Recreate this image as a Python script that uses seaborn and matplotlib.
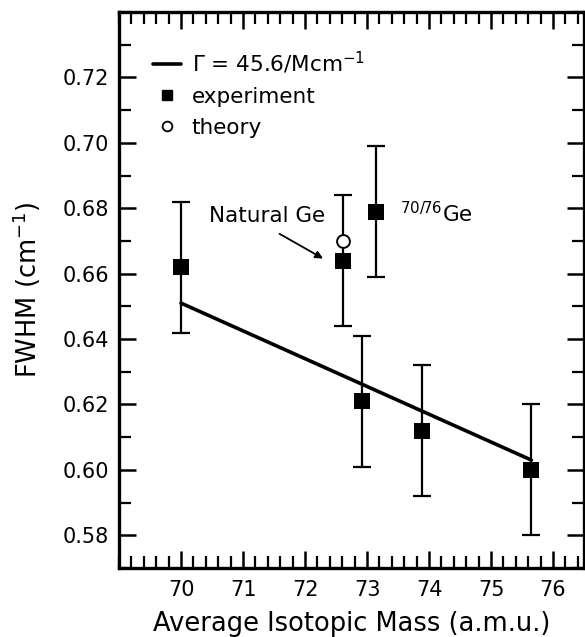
import numpy as np
import pandas as pd
import matplotlib
matplotlib.use("Agg")
import matplotlib.pyplot as plt
from matplotlib.ticker import MultipleLocator, FixedLocator
from matplotlib.lines import Line2D
import seaborn as sns

# ---- data ----
exp_mass = [70.0, 72.62, 73.15, 72.92, 73.88, 75.65]
exp_fwhm = [0.662, 0.664, 0.679, 0.621, 0.612, 0.600]
exp_err = [0.020, 0.020, 0.020, 0.020, 0.020, 0.020]

theory_mass = [72.62]
theory_fwhm = [0.670]

fit_mass = [70.0, 75.65]
fit_fwhm = [0.651, 0.603]

x_ticks = [70, 71, 72, 73, 74, 75, 76]
y_ticks = [0.58, 0.60, 0.62, 0.64, 0.66, 0.68, 0.70, 0.72]

legend_labels = ["Γ = 45.6/Mcm$^{-1}$", "experiment", "theory"]

# ---- style ----
sns.set_theme(style="ticks")
plt.rcParams["font.family"] = ["DejaVu Sans"]
plt.rcParams["mathtext.default"] = "regular"
plt.rcParams["axes.linewidth"] = 2.4
plt.rcParams["axes.edgecolor"] = "black"
plt.rcParams["text.color"] = "black"
plt.rcParams["axes.labelcolor"] = "black"

fig = plt.figure(figsize=(5.85, 6.37), dpi=100)
ax = fig.add_axes([119 / 585, 1 - 568 / 637, (584 - 119) / 585, (568 - 12) / 637])

exp_df = pd.DataFrame({"mass": exp_mass, "fwhm": exp_fwhm, "err": exp_err})
fit_df = pd.DataFrame({"mass": fit_mass, "fwhm": fit_fwhm})
th_df = pd.DataFrame({"mass": theory_mass, "fwhm": theory_fwhm})

ax.errorbar(exp_df["mass"], exp_df["fwhm"], yerr=exp_df["err"], fmt="none",
            ecolor="black", elinewidth=1.6, capsize=6.2, capthick=1.6, zorder=2)
sns.lineplot(data=fit_df, x="mass", y="fwhm", ax=ax, color="black", lw=2.6, zorder=3)
sns.scatterplot(data=exp_df, x="mass", y="fwhm", ax=ax, marker="s", s=117,
                color="black", edgecolor="black", linewidth=0, zorder=4)
sns.scatterplot(data=th_df, x="mass", y="fwhm", ax=ax, marker="o", s=85,
                facecolor="white", edgecolor="black", linewidth=1.4, zorder=5)

ax.set_xlim(69, 76.5)
ax.set_ylim(0.57, 0.74)
ax.xaxis.set_major_locator(FixedLocator(x_ticks))
ax.xaxis.set_minor_locator(MultipleLocator(0.2))
ax.yaxis.set_major_locator(FixedLocator(y_ticks))
ax.yaxis.set_minor_locator(MultipleLocator(0.01))
ax.set_xticklabels([str(t) for t in x_ticks])
ax.set_yticklabels([f"{t:.2f}" for t in y_ticks])

ax.tick_params(which="both", direction="in", top=True, right=True,
               color="black", labelcolor="black", labelsize=15)
ax.tick_params(which="major", length=12, width=1.8, pad=7)
ax.tick_params(which="minor", length=8.5, width=1.6)
ax.tick_params(axis="x", which="major", pad=9)
for s in ax.spines.values():
    s.set_visible(True)
    s.set_linewidth(2.4)
    s.set_color("black")

ax.set_xlabel("Average Isotopic Mass (a.m.u.)", fontsize=18.5, color="black")
ax.set_ylabel("FWHM (cm$^{-1}$)", fontsize=18.5, color="black")
ax.xaxis.set_label_coords(0.5, -0.078)
ax.yaxis.set_label_coords(-0.163, 0.5)

handles = [
    Line2D([], [], color="black", lw=2.6),
    Line2D([], [], color="black", marker="s", ls="none", markersize=7),
    Line2D([], [], color="black", marker="o", ls="none", markersize=7,
           markerfacecolor="white", markeredgewidth=1.3),
]
ax.legend(handles, legend_labels, loc="upper left", bbox_to_anchor=(0.073, 0.932),
          frameon=False, fontsize=15.5, borderpad=0, borderaxespad=0,
          handlelength=1.3, handletextpad=0.5, labelspacing=0.5, labelcolor="black")

ax.text(70.45, 0.6777, "Natural Ge", fontsize=15.5, ha="left", va="center", color="black")
ax.annotate("", xy=(72.33, 0.6642), xytext=(71.55, 0.6726),
            arrowprops=dict(arrowstyle="-|>", lw=1.3, color="black", mutation_scale=11))
ax.text(73.53, 0.6757, "$^{70/76}$Ge", fontsize=15.5, ha="left", va="baseline", color="black")

fig.savefig("out.png", dpi=100)
